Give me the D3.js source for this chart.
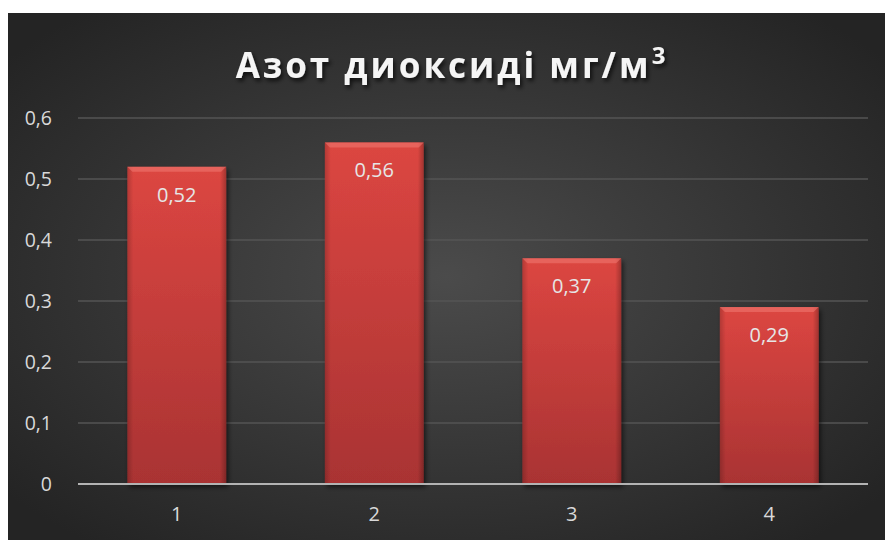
<!DOCTYPE html>
<html>
<head>
<meta charset="utf-8">
<script src="https://cdn.jsdelivr.net/npm/d3@7"></script>
<style>
  body { margin: 0; background: #fff; }
  svg { display: block; }
</style>
</head>
<body>
<svg class="chart" width="885" height="540"></svg>
<script>
var categories = ["1", "2", "3", "4"];
var values = [0.52, 0.56, 0.37, 0.29];
var yTicks = [0, 0.1, 0.2, 0.3, 0.4, 0.5, 0.6];
var title = "Азот диоксиді мг/м";

var svg = d3.select("svg.chart"),
    width = +svg.attr("width"),
    height = +svg.attr("height");

var margin = { left: 78, right: 17, top: 118, bottom: 56 };
var fmt = function (v) { return d3.format(".2~f")(v).replace(".", ","); };

var defs = svg.append("defs");
var bg = defs.append("radialGradient").attr("id", "bg")
    .attr("cx", "50%").attr("cy", "50%").attr("r", "65%");
bg.append("stop").attr("offset", "0%").attr("stop-color", "#4b4b4b");
bg.append("stop").attr("offset", "100%").attr("stop-color", "#242424");

var barGrad = defs.append("linearGradient").attr("id", "bar")
    .attr("x1", 0).attr("y1", 0).attr("x2", 0).attr("y2", 1);
barGrad.append("stop").attr("offset", "0%").attr("stop-color", "#dc4641");
barGrad.append("stop").attr("offset", "100%").attr("stop-color", "#a93333");

var side = defs.append("linearGradient").attr("id", "side")
    .attr("x1", 0).attr("y1", 0).attr("x2", 1).attr("y2", 0);
side.append("stop").attr("offset", "0%").attr("stop-color", "#000").attr("stop-opacity", 0.18);
side.append("stop").attr("offset", "6%").attr("stop-color", "#000").attr("stop-opacity", 0);
side.append("stop").attr("offset", "94%").attr("stop-color", "#000").attr("stop-opacity", 0);
side.append("stop").attr("offset", "100%").attr("stop-color", "#000").attr("stop-opacity", 0.25);

var shadow = defs.append("filter").attr("id", "shadow")
    .attr("x", "-10%").attr("y", "-10%").attr("width", "130%").attr("height", "130%");
shadow.append("feDropShadow").attr("dx", 2).attr("dy", 3).attr("stdDeviation", 2.5)
    .attr("flood-color", "#000").attr("flood-opacity", 0.6);

svg.append("rect")
    .attr("x", 8).attr("y", 13)
    .attr("width", width - 8).attr("height", height - 13)
    .attr("fill", "url(#bg)");

var x = d3.scaleBand()
    .domain(categories)
    .range([margin.left, width - margin.right])
    .paddingInner(0.5).paddingOuter(0.25);

var y = d3.scaleLinear()
    .domain([0, 0.6])
    .range([height - margin.bottom, margin.top]);

// gridlines
svg.append("g").selectAll("line")
    .data(yTicks.slice(1))
    .enter().append("line")
    .attr("x1", margin.left).attr("x2", width - margin.right)
    .attr("y1", function (d) { return y(d); })
    .attr("y2", function (d) { return y(d); })
    .attr("stroke", "#555").attr("stroke-width", 1.3);

// y axis labels
var yAxis = svg.append("g")
    .attr("transform", "translate(" + (margin.left - 23) + ",0)")
    .call(d3.axisLeft(y).tickValues(yTicks).tickSize(0).tickFormat(fmt));
yAxis.select(".domain").remove();
yAxis.selectAll("text")
    .attr("fill", "#d9d9d9")
    .style("font-family", "'Open Sans', sans-serif")
    .style("font-size", "19.5px");

// bars
var bar = svg.append("g").selectAll("g")
    .data(values)
    .enter().append("g");

bar.append("rect")
    .attr("x", function (d, i) { return x(categories[i]); })
    .attr("y", function (d) { return y(d); })
    .attr("width", x.bandwidth())
    .attr("height", function (d) { return y(0) - y(d); })
    .attr("fill", "url(#bar)")
    .attr("filter", "url(#shadow)");

bar.append("rect")
    .attr("x", function (d, i) { return x(categories[i]); })
    .attr("y", function (d) { return y(d); })
    .attr("width", x.bandwidth())
    .attr("height", function (d) { return y(0) - y(d); })
    .attr("fill", "url(#side)");

// top bevel highlight
bar.append("path")
    .attr("d", function (d, i) {
        var x0 = x(categories[i]), x1 = x0 + x.bandwidth(), t = y(d), b = 5;
        return "M" + x0 + "," + t + "L" + x1 + "," + t + "L" + (x1 - b) + "," + (t + b) + "L" + (x0 + b) + "," + (t + b) + "Z";
    })
    .attr("fill", "#f07a72").attr("opacity", 0.55);

bar.append("text")
    .attr("x", function (d, i) { return x(categories[i]) + x.bandwidth() / 2; })
    .attr("y", function (d) { return y(d) + 35; })
    .attr("text-anchor", "middle")
    .attr("fill", "#e6e6e6")
    .style("font-family", "'Open Sans', sans-serif")
    .style("font-size", "20px")
    .text(function (d) { return fmt(d); });

// baseline
svg.append("line")
    .attr("x1", margin.left).attr("x2", width - margin.right)
    .attr("y1", y(0)).attr("y2", y(0))
    .attr("stroke", "#b3b3b3").attr("stroke-width", 2);

// x axis labels
var xAxis = svg.append("g")
    .attr("transform", "translate(0," + (y(0) + 20) + ")")
    .call(d3.axisBottom(x).tickSize(0));
xAxis.select(".domain").remove();
xAxis.selectAll("text")
    .attr("fill", "#d9d9d9")
    .style("font-family", "'Open Sans', sans-serif")
    .style("font-size", "20px");

// title
var titleShadow = defs.append("filter").attr("id", "tshadow")
    .attr("x", "-10%").attr("y", "-30%").attr("width", "130%").attr("height", "170%");
titleShadow.append("feDropShadow").attr("dx", 2).attr("dy", 3).attr("stdDeviation", 2)
    .attr("flood-color", "#000").attr("flood-opacity", 0.7);

var t = svg.append("text")
    .attr("x", 452).attr("y", 78)
    .attr("text-anchor", "middle")
    .attr("fill", "#f5f5f5")
    .attr("filter", "url(#tshadow)")
    .style("font-family", "'Open Sans', sans-serif")
    .style("font-weight", "bold")
    .style("font-size", "35px")
    .style("letter-spacing", "3px");
t.append("tspan").text(title);
t.append("tspan").attr("dy", -14).style("font-size", "24px").text("3");
</script>
</body>
</html>
